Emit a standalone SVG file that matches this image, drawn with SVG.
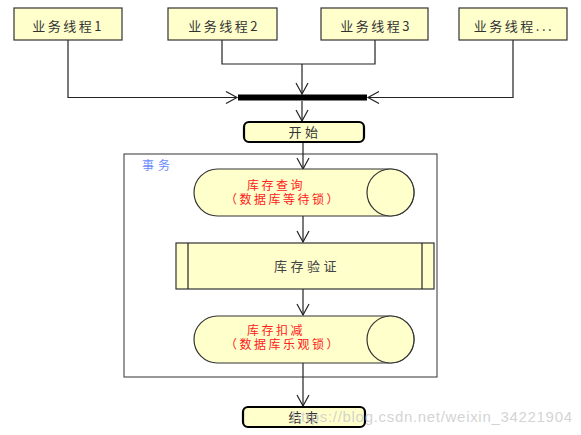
<svg xmlns="http://www.w3.org/2000/svg" width="581" height="435" viewBox="0 0 581 435">
<defs>
<style>
.box{fill:#ffffcc;stroke:#333;stroke-width:1.2}
.term{fill:#ffffcc;stroke:#000;stroke-width:2.2}
.t{font-family:"Noto Sans CJK SC","Liberation Sans",sans-serif;font-size:13px;fill:#333;text-anchor:middle;letter-spacing:2.5px}
.r{font-family:"Liberation Sans","Noto Sans CJK SC",sans-serif;fill:#ff2020;font-size:12px;letter-spacing:2.5px}
.ln{fill:none;stroke:#222;stroke-width:1.2}
</style>
<marker id="ar" markerWidth="14" markerHeight="14" refX="12" refY="7" orient="auto" markerUnits="userSpaceOnUse">
<path d="M1,1 L12,7 L1,13" fill="none" stroke="#222" stroke-width="1.2"/>
</marker>
</defs>
<rect width="581" height="435" fill="#fff"/>
<g id="frame">
<rect x="124" y="154" width="313" height="223" fill="none" stroke="#333" stroke-width="1"/>
<text x="158" y="170" class="t" style="fill:#6b8cff;font-size:12px;letter-spacing:4px">事务</text>
</g>
<g id="connectors">
<polyline class="ln" points="68,40 68,97.5 237,97.5" marker-end="url(#ar)"/>
<polyline class="ln" points="222,40 222,64 375,64 375,40"/>
<line class="ln" x1="302" y1="64" x2="302" y2="94" marker-end="url(#ar)"/>
<polyline class="ln" points="513,40 513,97.5 368,97.5" marker-end="url(#ar)"/>
<line class="ln" x1="302" y1="101" x2="302" y2="121" marker-end="url(#ar)"/>
<line class="ln" x1="303" y1="143" x2="303" y2="169" marker-end="url(#ar)"/>
<line class="ln" x1="303" y1="216" x2="303" y2="242" marker-end="url(#ar)"/>
<line class="ln" x1="303" y1="289" x2="303" y2="315" marker-end="url(#ar)"/>
<line class="ln" x1="303" y1="363" x2="303" y2="406" marker-end="url(#ar)"/>
</g>
<g id="thread1"><rect class="box" x="14" y="8" width="108" height="32"/><text class="t" x="68" y="31">业务线程1</text></g>
<g id="thread2"><rect class="box" x="168" y="8" width="109" height="32"/><text class="t" x="224" y="31">业务线程2</text></g>
<g id="thread3"><rect class="box" x="321" y="8" width="107" height="32"/><text class="t" x="376" y="31">业务线程3</text></g>
<g id="thread4"><rect class="box" x="459" y="8" width="108" height="32"/><text class="t" x="514" y="31">业务线程...</text></g>
<g id="join"><rect x="238" y="94.5" width="129" height="6" fill="#000"/></g>
<g id="start"><rect class="term" x="244" y="122" width="120" height="20" rx="5"/><text class="t" x="305" y="137" style="letter-spacing:3.5px">开始</text></g>
<g id="query">
<rect class="box" x="194" y="169" width="220" height="47" rx="23.5"/>
<circle class="box" cx="390.5" cy="192.5" r="23.5"/>
<text class="t r" x="276" y="190">库存查询</text>
<text class="t r" x="283" y="204">（数据库等待锁）</text>
</g>
<g id="verify">
<rect class="box" x="176" y="243" width="258" height="46"/>
<line class="ln" x1="188" y1="243" x2="188" y2="289"/>
<line class="ln" x1="422" y1="243" x2="422" y2="289"/>
<text class="t" x="307" y="271" style="fill:#444;letter-spacing:3.5px">库存验证</text>
</g>
<g id="deduct">
<rect class="box" x="194" y="316" width="220" height="47" rx="23.5"/>
<circle class="box" cx="390.5" cy="339.5" r="23.5"/>
<text class="t r" x="276" y="335">库存扣减</text>
<text class="t r" x="283" y="349">（数据库乐观锁）</text>
</g>
<g id="end"><rect class="term" x="243" y="407" width="122" height="20" rx="5"/><text class="t" x="305" y="422" style="letter-spacing:3.5px">结束</text></g>
<text x="292" y="422" font-family="Liberation Sans,sans-serif" font-size="15" textLength="280" fill="#c8c8c8" fill-opacity="0.8">https://blog.csdn.net/weixin_34221904</text>
</svg>
